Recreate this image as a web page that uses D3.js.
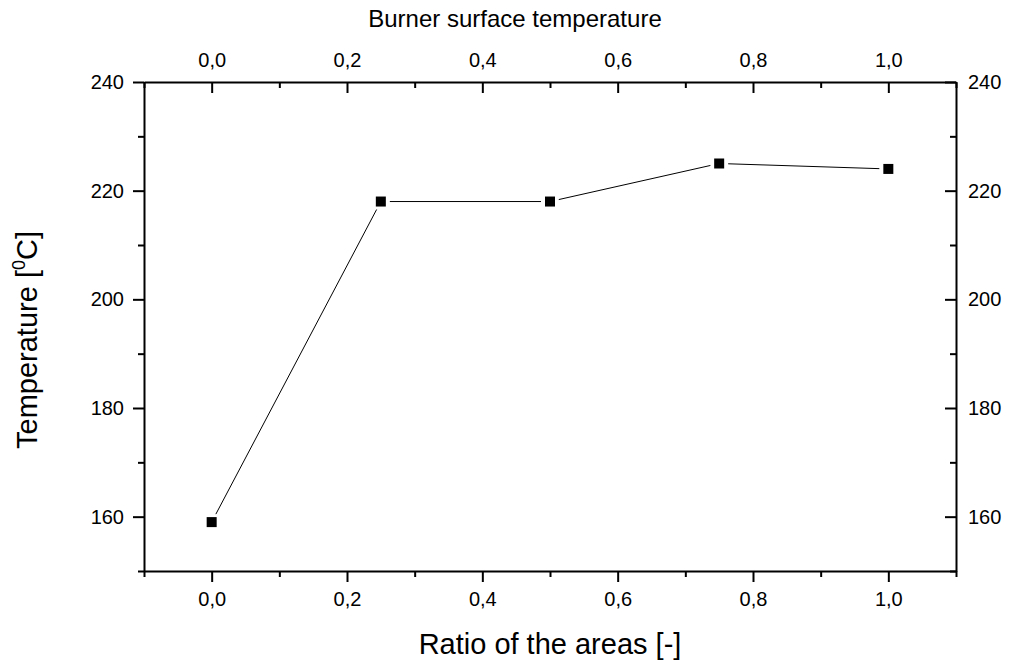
<!DOCTYPE html>
<html>
<head>
<meta charset="utf-8">
<script src="https://cdn.jsdelivr.net/npm/d3@7"></script>
<style>
  body { margin: 0; background: #fff; }
  text { font-family: "Liberation Sans", Arial, sans-serif; fill: #000; }
</style>
</head>
<body>
<svg id="chart" width="1010" height="661"></svg>
<script>
// chart values
var ratios = [0.0, 0.25, 0.5, 0.75, 1.0];
var temps = [159, 218, 218, 225, 224];
var xTicks = [0.0, 0.2, 0.4, 0.6, 0.8, 1.0];
var xMinor = [-0.1, 0.1, 0.3, 0.5, 0.7, 0.9, 1.1];
var yTicks = [160, 180, 200, 220, 240];
var yMinor = [150, 170, 190, 210, 230];

var svg = d3.select("#chart");
var plotLeft = 144, plotRight = 956, plotTop = 82, plotBottom = 571;

var x = d3.scaleLinear().domain([-0.1, 1.1]).range([plotLeft, plotRight]);
var y = d3.scaleLinear().domain([150, 240]).range([plotBottom, plotTop]);

var fmt = function(d) { return d3.format(".1f")(d).replace(".", ","); };

// outward ticks on bottom/left, inward on top/right (sign of dir)
function axis(gen, ticks, minor, transform, fmtFn, pad, dir) {
  var g = svg.append("g").attr("transform", transform)
    .call(gen.tickValues(ticks).tickSizeInner(11 * dir).tickSizeOuter(0).tickPadding(pad).tickFormat(fmtFn));
  g.attr("font-size", 20).attr("font-family", "Liberation Sans, Arial, sans-serif");
  g.select(".domain").attr("stroke-width", 2);
  g.selectAll(".tick line").attr("stroke-width", 2);
  var m = svg.append("g").attr("transform", transform)
    .call(gen.tickValues(minor).tickSizeInner(6 * dir).tickFormat(""));
  m.select(".domain").remove();
  m.selectAll(".tick line").attr("stroke-width", 2);
  return g;
}

axis(d3.axisBottom(x), xTicks, xMinor, "translate(0," + plotBottom + ")", fmt, 10, 1);
axis(d3.axisTop(x), xTicks, xMinor, "translate(0," + plotTop + ")", fmt, 15, -1);
axis(d3.axisLeft(y), yTicks, yMinor, "translate(" + plotLeft + ",0)", d3.format("d"), 9, 1);
axis(d3.axisRight(y), yTicks, yMinor, "translate(" + plotRight + ",0)", d3.format("d"), 12, -1);

// connecting segments with gaps around the symbols
var pts = ratios.map(function(r, i) { return [x(r), y(temps[i])]; });
var gap = 9;
for (var i = 0; i < pts.length - 1; i++) {
  var a = pts[i], b = pts[i + 1];
  var dx = b[0] - a[0], dy = b[1] - a[1];
  var len = Math.sqrt(dx * dx + dy * dy);
  var ux = dx / len, uy = dy / len;
  svg.append("line")
    .attr("x1", a[0] + ux * gap).attr("y1", a[1] + uy * gap)
    .attr("x2", b[0] - ux * gap).attr("y2", b[1] - uy * gap)
    .attr("stroke", "#000").attr("stroke-width", 1);
}

svg.selectAll("rect.pt")
  .data(ratios)
  .enter().append("rect")
  .attr("class", "pt")
  .attr("x", function(d) { return x(d) - 5; })
  .attr("y", function(d, i) { return y(temps[i]) - 5; })
  .attr("width", 10).attr("height", 10)
  .attr("fill", "#000");

// titles
svg.append("text")
  .attr("x", 550).attr("y", 654)
  .attr("text-anchor", "middle")
  .style("font-size", "29px")
  .text("Ratio of the areas [-]");

svg.append("text")
  .attr("x", 515).attr("y", 27)
  .attr("text-anchor", "middle")
  .style("font-size", "24px")
  .text("Burner surface temperature");

var yt = svg.append("text")
  .attr("transform", "translate(37,340) rotate(-90)")
  .attr("text-anchor", "middle")
  .style("font-size", "29px");
yt.append("tspan").text("Temperature [");
yt.append("tspan").attr("dy", -12).style("font-size", "18px").text("0");
yt.append("tspan").attr("dy", 12).text("C]");
</script>
</body>
</html>
